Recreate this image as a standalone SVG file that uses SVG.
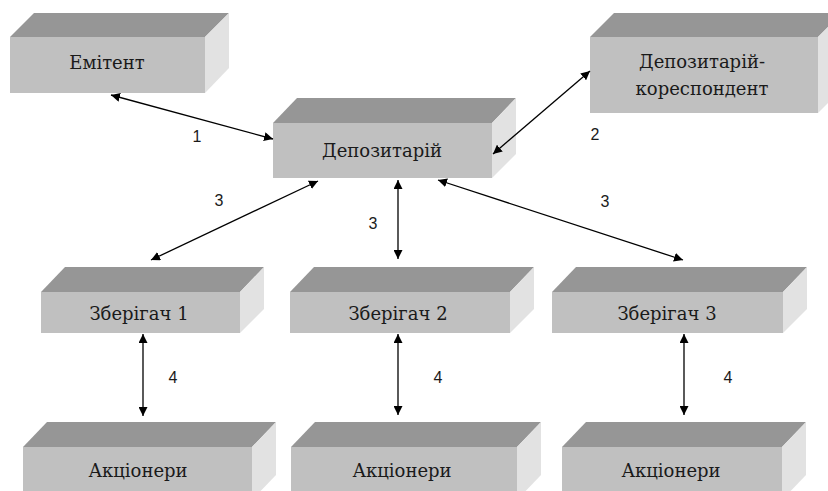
<svg xmlns="http://www.w3.org/2000/svg" width="828" height="491" viewBox="0 0 828 491">
<defs>
<marker id="ah" viewBox="0 0 10 10" refX="10" refY="5" markerWidth="9" markerHeight="9" markerUnits="userSpaceOnUse" orient="auto-start-reverse">
<path d="M0,0 L10,5 L0,10 Z" fill="#000"/>
</marker>
</defs>
<style>
.top{fill:#969696}
.front{fill:#c0c0c0}
.side{fill:#e2e2e2}
.lbl{font-family:'DejaVu Serif','Liberation Serif',serif;font-size:18px;fill:#1a1a1a;text-anchor:middle}
.num{font-family:'Liberation Sans',Arial,sans-serif;font-size:16px;fill:#1a1a1a;text-anchor:middle}
.con{stroke:#000;stroke-width:1.3;fill:none;marker-start:url(#ah);marker-end:url(#ah)}
</style>
<rect width="828" height="491" fill="#fff"/>

<g id="emitent">
<polygon class="top" points="10,37 34,13 229,13 205,37"/>
<polygon class="side" points="205,37 229,13 229,68 205,93"/>
<rect class="front" x="10" y="37" width="195" height="56"/>
<text class="lbl" x="107" y="69">Емітент</text>
</g>

<g id="depozytarii">
<polygon class="top" points="273,123 297,98 516,98 492,123"/>
<polygon class="side" points="492,123 516,98 516,154 492,178"/>
<rect class="front" x="273" y="123" width="219" height="55"/>
<text class="lbl" x="382" y="157">Депозитарій</text>
</g>

<g id="korespondent">
<polygon class="top" points="590,37 614,13 842,13 818,37"/>
<polygon class="side" points="818,37 842,13 842,89 818,113"/>
<rect class="front" x="590" y="37" width="228" height="76"/>
<text class="lbl" x="702" y="68">Депозитарій-</text>
<text class="lbl" x="702" y="95">кореспондент</text>
</g>

<g id="zberigach1">
<polygon class="top" points="41,292 65,267 264,267 240,292"/>
<polygon class="side" points="240,292 264,267 264,309 240,333"/>
<rect class="front" x="41" y="292" width="199" height="41"/>
<text class="lbl" x="139" y="320">Зберігач 1</text>
</g>

<g id="zberigach2">
<polygon class="top" points="290,292 314,267 534,267 510,292"/>
<polygon class="side" points="510,292 534,267 534,309 510,333"/>
<rect class="front" x="290" y="292" width="220" height="41"/>
<text class="lbl" x="398" y="320">Зберігач 2</text>
</g>

<g id="zberigach3">
<polygon class="top" points="552,292 576,267 807,267 783,292"/>
<polygon class="side" points="783,292 807,267 807,309 783,333"/>
<rect class="front" x="552" y="292" width="231" height="41"/>
<text class="lbl" x="667" y="320">Зберігач 3</text>
</g>

<g id="aktsionery1">
<polygon class="top" points="23,447 47,422 276,422 252,447"/>
<polygon class="side" points="252,447 276,422 276,475 252,500"/>
<rect class="front" x="23" y="447" width="229" height="50"/>
<text class="lbl" x="138" y="477">Акціонери</text>
</g>

<g id="aktsionery2">
<polygon class="top" points="291,447 315,422 541,422 517,447"/>
<polygon class="side" points="517,447 541,422 541,475 517,500"/>
<rect class="front" x="291" y="447" width="226" height="50"/>
<text class="lbl" x="402" y="477">Акціонери</text>
</g>

<g id="aktsionery3">
<polygon class="top" points="562,447 586,422 806,422 782,447"/>
<polygon class="side" points="782,447 806,422 806,475 782,500"/>
<rect class="front" x="562" y="447" width="220" height="50"/>
<text class="lbl" x="671" y="477">Акціонери</text>
</g>

<g id="connectors">
<line class="con" x1="111" y1="95" x2="273" y2="139"/>
<line class="con" x1="590" y1="71" x2="493" y2="154"/>
<line class="con" x1="318" y1="181" x2="151" y2="260"/>
<line class="con" x1="398" y1="180" x2="398" y2="259"/>
<line class="con" x1="438" y1="180" x2="683" y2="260"/>
<line class="con" x1="143" y1="334" x2="143" y2="416"/>
<line class="con" x1="398" y1="334" x2="398" y2="415"/>
<line class="con" x1="684" y1="334" x2="684" y2="415"/>
</g>

<g id="labels">
<text class="num" x="197" y="142">1</text>
<text class="num" x="595" y="140">2</text>
<text class="num" x="219" y="206">3</text>
<text class="num" x="373" y="229">3</text>
<text class="num" x="605" y="207">3</text>
<text class="num" x="173" y="383">4</text>
<text class="num" x="438" y="383">4</text>
<text class="num" x="728" y="383">4</text>
</g>
</svg>
